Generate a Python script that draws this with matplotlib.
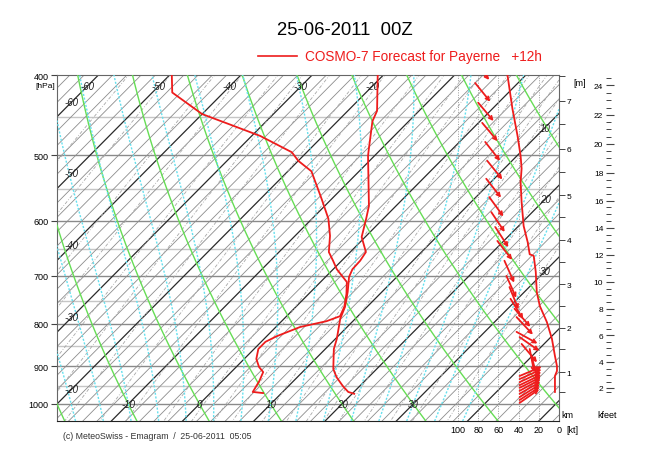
import numpy as np
import matplotlib

matplotlib.use("Agg")
import matplotlib.pyplot as plt  # noqa: E402
from matplotlib.lines import Line2D  # noqa: E402
from matplotlib.patches import FancyArrowPatch  # noqa: E402
from matplotlib.ticker import FixedLocator, NullFormatter, NullLocator  # noqa: E402

plt.rcParams["font.family"] = ["Liberation Sans", "DejaVu Sans"]

# --- COSMO-7 sounding, Payerne, +12h ---
TEMP_P = [400, 442, 455, 492, 501, 576, 597, 628, 655, 671, 687, 702, 732, 763,
          789, 834, 858, 907, 928, 951, 967, 972]
TEMP_C = [-20.8, -15.9, -15.1, -11.7, -10.9, -3.8, -2.4, -0.5, 2.2, 2.6, 2.7, 3.3,
          5.2, 6.9, 7.9, 10.2, 11.2, 13.9, 15.5, 17.6, 19.2, 20.3]

DEW_P = [400, 420, 446, 458, 474, 496, 508, 523, 565, 597, 626, 655, 671, 687, 712,
         736, 763, 783, 794, 807, 828, 841, 858, 882, 902, 915, 938, 967, 970]
DEW_C = [-49.7, -47.2, -40.0, -35.1, -28.8, -22.1, -20.0, -16.7, -11.4, -7.7, -5.1,
         -3.0, -1.2, 0.5, 3.7, 5.3, 6.8, 7.5, 6.3, 3.4, 1.4, 0.6, 0.6, 1.7, 3.2, 4.5,
         5.2, 5.8, 7.4]

SPEED_P = [400, 440, 474, 501, 519, 539, 570, 609, 637, 659, 662, 692, 732, 761, 796,
           834, 875, 900, 912, 925, 967]
SPEED_KT = [51, 46, 41, 38, 37, 38, 37, 35, 31, 29, 25, 23, 22, 19, 12, 7, 4, 2, 2, 4, 4]

# wind arrows: level of the tail, tail position on the kt scale, direction (deg, from)
ARROW_P = [385, 409, 432, 457, 482, 508, 534, 562, 586, 611, 635, 671, 700, 722, 746,
           767, 785, 818, 830, 846, 858, 877,
           925, 933, 941, 949, 956, 964, 972, 981, 989, 997]
ARROW_KT = [84, 83, 80, 76, 73, 71, 72, 69, 67, 63, 61, 54, 52, 49, 48, 44, 42, 42, 39,
            37, 29, 27,
            39, 39, 39, 39, 39, 39, 39, 39, 39, 39]
ARROW_DIR = [321, 321, 320, 320, 322, 321, 322, 324, 326, 327, 322, 336, 336, 338, 328,
             319, 317, 299, 305, 320, 349, 345,
             247, 246, 245, 244, 243, 241, 240, 238, 237, 235]

# altitude scale on the right (km) and the pressure it sits at
ALT_KM = [0.5, 1, 1.5, 2, 2.5, 3, 3.5, 4, 4.5, 5, 5.5, 6, 6.5, 7, 7.5]
ALT_P = [967, 915, 858, 809, 761, 716, 673, 633, 594, 559, 524, 491, 459, 430, 401]

PRESSURE_TICKS = [400, 500, 600, 700, 800, 900, 1000]
KT_TICKS = [100, 80, 60, 40, 20, 0]
KFEET_TICKS = list(range(2, 26, 2))

TITLE = "25-06-2011  00Z"
LEGEND = "COSMO-7 Forecast for Payerne   +12h"
CREDIT = "(c) MeteoSwiss - Emagram  /  25-06-2011  05:05"

# --- diagram geometry ---
SKEW = 50.0           # deg C per unit ln(1000/p)
P_TOP, P_BOTTOM = 400.0, 1048.5
X_LEFT, X_RIGHT = -20.0, 50.46
KT_PER_DEG = 7.05
RED = "#ee1c1c"
GREEN = "#66dd55"
CYAN = "#66e0ee"

W, H = 650, 460


def skx(t, p):
    return np.asarray(t, dtype=float) + SKEW * np.log(1000.0 / np.asarray(p, dtype=float))


def kt_x(kt):
    return X_RIGHT - np.asarray(kt, dtype=float) / KT_PER_DEG


def sat_vp(t_c):
    return 6.112 * np.exp(17.67 * t_c / (t_c + 243.5))


def pseudo_adiabats(tw_list, p_grid):
    """Integrate pseudo-adiabats from 1000 hPa along p_grid (1000 first)."""
    rd, cp, lv, eps = 287.04, 1005.7, 2.501e6, 0.622

    def slope(t_k, p):
        es = sat_vp(t_k - 273.15)
        rs = eps * es / (p - es)
        return (rd * t_k + lv * rs) / (cp + lv * lv * rs * eps / (rd * t_k * t_k)) / p

    t = np.asarray(tw_list, dtype=float) + 273.15
    out = [t.copy()]
    for p0, p1 in zip(p_grid[:-1], p_grid[1:]):
        dp = p1 - p0
        k1 = slope(t, p0)
        k2 = slope(t + k1 * dp, p1)
        t = t + 0.5 * (k1 + k2) * dp
        out.append(t.copy())
    return np.array(out) - 273.15


fig = plt.figure(figsize=(W / 100, H / 100), dpi=100)
ax = fig.add_axes([57 / W, 1 - 422 / H, 502 / W, 346 / H])
ax.set_yscale("log")
ax.set_ylim(P_BOTTOM, P_TOP)
ax.set_xlim(X_LEFT, X_RIGHT)

p_line = np.geomspace(P_TOP * 0.98, P_BOTTOM * 1.01, 120)

# isobars
for p in range(450, 1050, 50):
    strong = p % 100 == 0
    ax.axhline(p, color="#8a8a8a" if strong else "#c6c6c6", lw=1.0, zorder=1)

# isotherms
for t in range(-70, 56, 2):
    ten = t % 10 == 0
    ax.plot(skx(np.full_like(p_line, t), p_line), p_line,
            color="#2a2a2a" if ten else "#8c8c8c", lw=0.9 if ten else 0.6, zorder=2)

# mixing ratio lines
for w in [0.05, 0.1, 0.2, 0.3, 0.5, 0.7, 1, 1.5, 2, 3, 4, 5, 6, 8, 10, 12, 14, 16,
          20, 25, 30, 40]:
    e = w * p_line / (622.0 + w)
    le = np.log(e / 6.112)
    td = 243.5 * le / (17.67 - le)
    ax.plot(skx(td, p_line), p_line, color="#a8a8a8", lw=0.6, ls=(0, (4, 2, 1, 2)),
            zorder=2)

# dry adiabats
for theta in range(-60, 140, 10):
    t = (theta + 273.15) * (p_line / 1000.0) ** 0.2857 - 273.15
    ax.plot(skx(t, p_line), p_line, color=GREEN, lw=1.0, zorder=3)

# pseudo-adiabats
tw = list(range(-18, 40, 4))
p_up = np.linspace(1000, P_TOP * 0.98, 240)
p_dn = np.linspace(1000, P_BOTTOM * 1.01, 30)
t_up = pseudo_adiabats(tw, p_up)
t_dn = pseudo_adiabats(tw, p_dn)
for i in range(len(tw)):
    pp = np.concatenate([p_dn[::-1], p_up[1:]])
    tt = np.concatenate([t_dn[::-1, i], t_up[1:, i]])
    ax.plot(skx(tt, pp), pp, color=CYAN, lw=1.0, ls=(0, (1.5, 1.2)), zorder=3)

# wind speed grid
for kt in KT_TICKS[:-1]:
    ax.axvline(kt_x(kt), color="#9a9a9a", lw=0.7, ls=(0, (1, 1.5)), zorder=2)

# isotherm labels
lab = dict(fontsize=7, style="italic", color="#222222", ha="center", va="center",
           zorder=6)
for t in [-60, -50, -40, -30, -20]:
    ax.text(skx(t, 413), 413, str(t), **lab)
    ax.text(-17.9, 1000 * np.exp(-(-17.9 - t) / SKEW), str(t), **lab)
for t in [-10, 0, 10, 20, 30]:
    ax.text(skx(t, 1000), 1000, str(t), **lab)
for t in [10, 20, 30]:
    ax.text(48.5, 1000 * np.exp(-(48.5 - t) / SKEW), str(t), **lab)

# profiles
ax.plot(skx(TEMP_C, TEMP_P), TEMP_P, color=RED, lw=1.3, zorder=7)
ax.plot(skx(DEW_C, DEW_P), DEW_P, color=RED, lw=1.3, zorder=7)
ax.plot(kt_x(SPEED_KT), SPEED_P, color=RED, lw=1.3, zorder=7)

# wind arrows (fixed length, pointing downwind)
ARROW_LEN = 24
for p, kt, d in zip(ARROW_P, ARROW_KT, ARROW_DIR):
    tail = np.array([float(kt_x(kt)), p])
    tail_px = ax.transData.transform(tail)
    ang = np.deg2rad(d + 180)
    head_px = tail_px + ARROW_LEN * np.array([np.sin(ang), np.cos(ang)])
    head = ax.transData.inverted().transform(head_px)
    ax.add_patch(FancyArrowPatch(tail, head, arrowstyle="->", mutation_scale=6,
                                 lw=1.3, color=RED, shrinkA=0, shrinkB=0, zorder=8))

# axes cosmetics
ax.set_xticks([])
ax.yaxis.set_major_locator(FixedLocator(PRESSURE_TICKS))
ax.yaxis.set_minor_locator(NullLocator())
ax.set_yticklabels([str(p) for p in PRESSURE_TICKS])
ax.tick_params(axis="y", labelsize=6.5, length=4, width=0.8, pad=2, color="#444444")
for side in ("top", "left", "right"):
    ax.spines[side].set_color("#666666")
ax.spines["bottom"].set_color("#222222")

for kt in KT_TICKS:
    ax.text(kt_x(kt), -0.012, str(kt), transform=ax.get_xaxis_transform(),
            ha="center", va="top", fontsize=6.5)
ax.text(kt_x(0) + 1.0, -0.012, "[kt]", transform=ax.get_xaxis_transform(),
        ha="left", va="top", fontsize=6.5)

# km scale
ax2 = ax.twinx()
ax2.set_yscale("log")
ax2.set_ylim(P_BOTTOM, P_TOP)
km_major = [p for h, p in zip(ALT_KM, ALT_P) if h == int(h)]
km_minor = [p for h, p in zip(ALT_KM, ALT_P) if h != int(h)]
ax2.yaxis.set_major_locator(FixedLocator(km_major))
ax2.yaxis.set_minor_locator(FixedLocator(km_minor))
ax2.yaxis.set_minor_formatter(NullFormatter())
ax2.set_yticklabels([str(int(h)) for h in ALT_KM if h == int(h)])
ax2.tick_params(axis="y", which="both", labelsize=6, length=4, width=0.7, pad=1.5,
                color="#444444")
for s in ax2.spines.values():
    s.set_visible(False)

# kfeet scale
axk = fig.add_axes([606 / W, 1 - 422 / H, 10 / W, 346 / H])
axk.set_yscale("log")
axk.set_ylim(P_BOTTOM, P_TOP)
axk.set_xticks([])
log_alt_p = np.log(ALT_P)
kf_major = np.exp(np.interp(np.array(KFEET_TICKS) * 0.3048, ALT_KM, log_alt_p))
kf_minor_vals = [v for v in np.arange(1.5, 24.6, 0.5) if v % 2 != 0]
kf_minor = np.exp(np.interp(np.array(kf_minor_vals) * 0.3048, ALT_KM, log_alt_p))
axk.yaxis.set_major_locator(FixedLocator(kf_major))
axk.yaxis.set_minor_locator(FixedLocator(kf_minor))
axk.yaxis.set_minor_formatter(NullFormatter())
axk.set_yticklabels([str(v) for v in KFEET_TICKS])
axk.tick_params(axis="y", which="major", direction="in", length=6, width=0.8,
                labelsize=6, pad=2, color="#444444")
axk.tick_params(axis="y", which="minor", direction="in", length=3.5, width=0.7,
                color="#444444")
for s in axk.spines.values():
    s.set_visible(False)
axk.patch.set_visible(False)

# figure texts
fig.text(45 / W, 1 - 87 / H, "[hPa]", fontsize=6, ha="center", va="center")
fig.text(580 / W, 1 - 84 / H, "[m]", fontsize=6.5, ha="center", va="center")
fig.text(567 / W, 1 - 416 / H, "km", fontsize=6.5, ha="center", va="center")
fig.text(607 / W, 1 - 416 / H, "kfeet", fontsize=6.5, ha="center", va="center")
fig.text(345 / W, 1 - 31 / H, TITLE, fontsize=13.3, ha="center", va="center")
fig.add_artist(Line2D([258 / W, 297 / W], [1 - 57 / H, 1 - 57 / H], color=RED, lw=1.2))
fig.text(305 / W, 1 - 57 / H, LEGEND, fontsize=9.8, color=RED, ha="left", va="center")
fig.text(63 / W, 1 - 437 / H, CREDIT, fontsize=6.3, color="#333333", ha="left",
         va="center")

fig.savefig("out.png", dpi=100)
